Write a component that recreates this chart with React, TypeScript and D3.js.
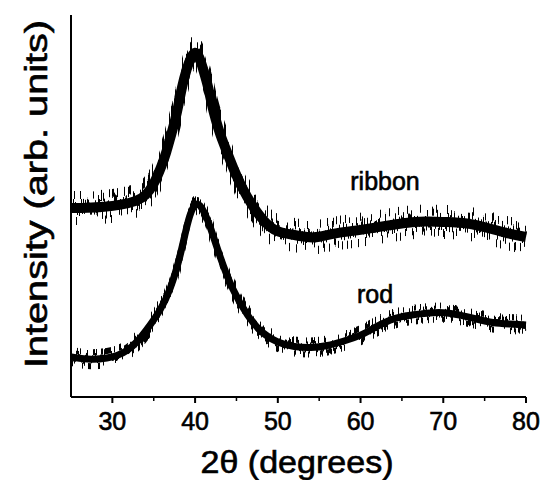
import React, { useEffect, useRef } from 'react';
import * as d3 from 'd3';

// 2-theta positions (degrees) and intensity (arb. units)
const ribbonAngle = [25, 27, 29, 31, 33, 34, 35, 36, 36.5, 37, 37.6, 38, 38.4, 39, 39.5, 40, 40.5, 41, 41.6, 42, 42.5, 43, 43.9, 44.7, 45.6, 47, 48, 49, 50, 52, 54, 55, 57, 60, 63, 65, 68, 70, 73, 75, 78, 80];
const ribbonValue = [189, 189, 190, 192, 196, 201, 212, 232, 244, 259, 277, 292, 310, 329, 340, 346, 341, 327, 310, 293, 277, 263, 244, 227, 210, 190, 179, 170, 165, 162, 159, 160, 164, 167, 171, 174, 176, 175, 174, 170, 163, 160];

const rodAngle = [25, 27.5, 29.5, 30.5, 31.8, 33, 34.15, 35.85, 37, 38.2, 39.06, 39.7, 40.3, 41, 41.7, 43, 44.5, 46.4, 48, 50, 52, 54, 56, 58, 60, 62, 64, 66, 68, 70, 72, 74, 76, 78, 80];
const rodValue = [40, 37, 39, 41, 46, 55, 67, 87, 107, 140, 174, 190, 195, 187, 174, 140, 107, 80, 64, 54, 50, 49, 51, 56, 61, 71, 79, 82, 84, 85, 82, 78, 74, 73, 72];

const majorTicks = [30, 40, 50, 60, 70, 80];
const minorTicks = [35, 45, 55, 65, 75];

const App = () => {
  const ref = useRef<SVGSVGElement>(null);

  useEffect(() => {
    const width = 547;
    const height = 480;
    const margin = { top: 15, left: 71, right: 21, bottom: 83 };
    const font = "'Liberation Sans', Arial, Helvetica, sans-serif";

    const svg = d3.select(ref.current);
    svg.selectAll('*').remove();
    svg.attr('width', width).attr('height', height);

    const x = d3.scaleLinear().domain([25, 80]).range([margin.left, width - margin.right]);
    const y = d3.scaleLinear().domain([0, 382]).range([height - margin.bottom, margin.top]);

    const defs = svg.append('defs');
    defs
      .append('clipPath')
      .attr('id', 'plotClip')
      .append('rect')
      .attr('x', x(25) + 1)
      .attr('y', 0)
      .attr('width', x(80) - x(25) + 2)
      .attr('height', y(0) - 2);

    // vertical jitter texture for the noisy diffraction traces
    const addNoise = (id: string, scale: number, seed: number) => {
      const f = defs
        .append('filter')
        .attr('id', id)
        .attr('filterUnits', 'userSpaceOnUse')
        .attr('x', 0)
        .attr('y', 0)
        .attr('width', width)
        .attr('height', height)
        .attr('color-interpolation-filters', 'sRGB');
      f.append('feTurbulence')
        .attr('type', 'fractalNoise')
        .attr('baseFrequency', '0.55 0.004')
        .attr('numOctaves', 1)
        .attr('seed', seed)
        .attr('result', 'noise');
      const ct = f.append('feComponentTransfer').attr('in', 'noise').attr('result', 'amp');
      ct.append('feFuncR').attr('type', 'linear').attr('slope', 0).attr('intercept', 0.5);
      ct.append('feFuncG').attr('type', 'linear').attr('slope', 3.5).attr('intercept', -1.25);
      ct.append('feFuncA').attr('type', 'linear').attr('slope', 0).attr('intercept', 1);
      f.append('feDisplacementMap')
        .attr('in', 'SourceGraphic')
        .attr('in2', 'amp')
        .attr('scale', scale)
        .attr('xChannelSelector', 'R')
        .attr('yChannelSelector', 'G');
    };
    addNoise('noiseRibbon', 26, 4);
    addNoise('noiseRod', 14, 9);

    const line = d3
      .line<[number, number]>()
      .x((d) => x(d[0]))
      .y((d) => y(d[1]))
      .curve(d3.curveBasis);

    const series = [
      { pts: ribbonAngle.map((a, i) => [a, ribbonValue[i]] as [number, number]), w: 10, fw: 8, f: 'noiseRibbon' },
      { pts: rodAngle.map((a, i) => [a, rodValue[i]] as [number, number]), w: 7, fw: 6, f: 'noiseRod' },
    ];

    const traces = svg.append('g').attr('clip-path', 'url(#plotClip)');

    // dense core of each trace
    traces
      .append('g')
      .selectAll('path')
      .data(series)
      .enter()
      .append('path')
      .attr('d', (d) => line(d.pts))
      .attr('fill', 'none')
      .attr('stroke', '#000')
      .attr('stroke-width', (d) => d.w)
      .attr('stroke-linejoin', 'round');

    // noise spikes around it
    traces
      .append('g')
      .selectAll('path')
      .data(series)
      .enter()
      .append('path')
      .attr('filter', (d) => `url(#${d.f})`)
      .attr('d', (d) => line(d.pts))
      .attr('fill', 'none')
      .attr('stroke', '#000')
      .attr('stroke-width', (d) => d.fw)
      .attr('stroke-linejoin', 'round');

    // axes
    const x0 = x(25);
    const yb = y(0);
    svg
      .append('line')
      .attr('x1', x0)
      .attr('x2', x0)
      .attr('y1', margin.top)
      .attr('y2', yb)
      .attr('stroke', '#000')
      .attr('stroke-width', 2);
    svg
      .append('line')
      .attr('x1', x0)
      .attr('x2', x(80))
      .attr('y1', yb)
      .attr('y2', yb)
      .attr('stroke', '#000')
      .attr('stroke-width', 2);

    svg
      .append('g')
      .selectAll('line')
      .data(majorTicks)
      .enter()
      .append('line')
      .attr('x1', (d) => x(d))
      .attr('x2', (d) => x(d))
      .attr('y1', yb)
      .attr('y2', yb + 6)
      .attr('stroke', '#000')
      .attr('stroke-width', 2);
    svg
      .append('g')
      .selectAll('line')
      .data(minorTicks)
      .enter()
      .append('line')
      .attr('x1', (d) => x(d))
      .attr('x2', (d) => x(d))
      .attr('y1', yb)
      .attr('y2', yb + 4)
      .attr('stroke', '#000')
      .attr('stroke-width', 1.5);

    const txt = (sel: d3.Selection<SVGTextElement, any, any, any>, size: number) =>
      sel
        .attr('font-family', font)
        .attr('font-size', size)
        .attr('fill', '#000')
        .attr('stroke', '#000')
        .attr('stroke-width', 0.6);

    svg
      .append('g')
      .selectAll('text')
      .data(majorTicks)
      .enter()
      .append('text')
      .attr('x', (d) => x(d))
      .attr('y', 430)
      .attr('text-anchor', 'middle')
      .call((s) => txt(s as any, 25))
      .text((d) => d);

    svg
      .append('text')
      .attr('x', 297)
      .attr('y', 473)
      .attr('text-anchor', 'middle')
      .call((s) => txt(s as any, 31))
      .attr('textLength', 193)
      .attr('lengthAdjust', 'spacingAndGlyphs')
      .text('2θ (degrees)');

    svg
      .append('text')
      .attr('transform', 'translate(47,194) rotate(-90)')
      .attr('text-anchor', 'middle')
      .call((s) => txt(s as any, 31))
      .attr('textLength', 348)
      .attr('lengthAdjust', 'spacingAndGlyphs')
      .text('Intensity (arb. units)');

    svg
      .append('text')
      .attr('x', 385)
      .attr('y', 190)
      .attr('text-anchor', 'middle')
      .call((s) => txt(s as any, 25))
      .text('ribbon');
    svg
      .append('text')
      .attr('x', 375)
      .attr('y', 303)
      .attr('text-anchor', 'middle')
      .call((s) => txt(s as any, 25))
      .text('rod');
  }, []);

  return (
    <div style={{ position: 'absolute', left: 0, top: 0 }}>
      <svg ref={ref}></svg>
    </div>
  );
};

export default App;
